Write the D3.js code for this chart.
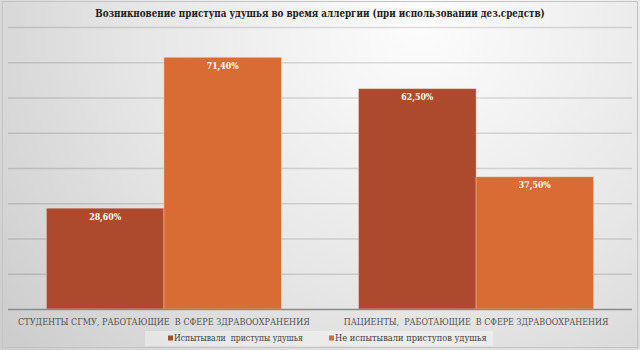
<!DOCTYPE html>
<html>
<head>
<meta charset="utf-8">
<script src="https://cdn.jsdelivr.net/npm/d3@7/dist/d3.min.js"></script>
<style>
  html, body { margin: 0; padding: 0; background: #fff; }
  svg { display: block; }
  svg text { font-family: "DejaVu Serif", serif; white-space: pre; }
</style>
</head>
<body>
<svg id="chart" width="640" height="350"></svg>
<script>
// Chart data
const title = "Возникновение приступа удушья во время аллергии (при использовании дез.средств)";
const categories = [
  "СТУДЕНТЫ СГМУ, РАБОТАЮЩИЕ  В СФЕРЕ ЗДРАВООХРАНЕНИЯ",
  "ПАЦИЕНТЫ,  РАБОТАЮЩИЕ  В СФЕРЕ ЗДРАВООХРАНЕНИЯ"
];
const seriesNames = ["Испытывали  приступы удушья", "Не испытывали приступов удушья"];
const experienced = [28.6, 62.5];
const notExperienced = [71.4, 37.5];
const yTicks = [0, 10, 20, 30, 40, 50, 60, 70, 80];
const colors = ["#ad4a2d", "#d96c35"];

const W = 640, H = 350;
const margin = { left: 8, right: 8, top: 27, bottom: 41 };
const svg = d3.select("#chart");

// Condense a text element horizontally (about its anchor x) to a given width
function fitWidth(sel, w) {
  sel.each(function() {
    const t = d3.select(this);
    const natural = this.getComputedTextLength();
    const k = natural > 0 ? w / natural : 1;
    const ax = +t.attr("x") || 0;
    t.attr("transform", `translate(${ax},0) scale(${k},1) translate(${-ax},0)`);
  });
}

// Background with soft radial shading and a thin frame
const defs = svg.append("defs");
const rg = defs.append("radialGradient")
  .attr("id", "bg").attr("gradientUnits", "userSpaceOnUse")
  .attr("cx", 420).attr("cy", 20).attr("r", 520);
rg.append("stop").attr("offset", "0%").attr("stop-color", "#fdfdfd");
rg.append("stop").attr("offset", "55%").attr("stop-color", "#e6e6e6");
rg.append("stop").attr("offset", "100%").attr("stop-color", "#cdcdcd");
svg.append("rect").attr("width", W).attr("height", H).attr("fill", "url(#bg)");
svg.append("rect").attr("x", 2.5).attr("y", 1.5).attr("width", W - 5).attr("height", H - 4)
  .attr("fill", "none").attr("stroke", "#c4c4c4").attr("stroke-width", 1);

const x0 = d3.scaleBand().domain(categories)
  .range([margin.left, W - margin.right]).paddingInner(0.247).paddingOuter(0.123);
const x1 = d3.scaleBand().domain([0, 1]).range([0, x0.bandwidth()]);
const y = d3.scaleLinear().domain([0, 80]).range([H - margin.bottom, margin.top]);

// Horizontal gridlines
const grid = svg.append("g")
  .attr("transform", `translate(${margin.left},0)`)
  .call(d3.axisLeft(y).tickValues(yTicks.slice(1)).tickSize(-(W - margin.left - margin.right)).tickFormat(""));
grid.select(".domain").remove();
grid.selectAll("line").attr("stroke", "rgba(0,0,0,0.13)").attr("stroke-width", 1.3);

// Grouped bars with value labels
const rows = categories.map((c, i) => ({ cat: c, vals: [experienced[i], notExperienced[i]] }));
const groups = svg.append("g").selectAll("g").data(rows).join("g")
  .attr("transform", d => `translate(${x0(d.cat)},0)`);
groups.selectAll("rect").data(d => d.vals.map((v, k) => ({ v, k }))).join("rect")
  .attr("x", d => x1(d.k))
  .attr("y", d => y(d.v))
  .attr("width", x1.bandwidth())
  .attr("height", d => y(0) - y(d.v))
  .attr("fill", d => colors[d.k])
  .attr("stroke", "rgba(255,225,210,0.45)")
  .attr("stroke-width", 0.8);
groups.selectAll("text").data(d => d.vals.map((v, k) => ({ v, k }))).join("text")
  .attr("x", d => x1(d.k) + x1.bandwidth() / 2)
  .attr("y", d => y(d.v) + 11.5)
  .attr("text-anchor", "middle")
  .attr("font-weight", "bold")
  .attr("font-size", 10)
  .attr("fill", "#ffffff")
  .text(d => d3.format(".2f")(d.v).replace(".", ",") + "%")
  .call(fitWidth, 32);

// Baseline and category labels
const xAxis = svg.append("g")
  .attr("transform", `translate(0,${y(0)})`)
  .call(d3.axisBottom(x0).tickSize(0).tickPadding(9));
xAxis.attr("font-family", null);
xAxis.select(".domain").attr("d", `M${margin.left},0.5H${W - margin.right}`)
  .attr("stroke", "#8a8a8a").attr("stroke-width", 1.4);
const catWidths = [292, 265];
xAxis.selectAll(".tick text")
  .attr("font-size", 9.5)
  .attr("fill", "#505050")
  .each(function(d, i) { d3.select(this).call(fitWidth, catWidths[i]); });

// Title
svg.append("text")
  .attr("x", W / 2).attr("y", 17.5)
  .attr("text-anchor", "middle")
  .attr("font-weight", "bold")
  .attr("font-size", 11.5)
  .attr("fill", "#222")
  .text(title)
  .call(fitWidth, 450);

// Legend
const legend = svg.append("g");
legend.append("rect").attr("x", 145).attr("y", 331).attr("width", 348).attr("height", 15)
  .attr("fill", "rgba(255,255,255,0.35)");
const legendX = [168, 329];
const legendW = [129, 152];
seriesNames.forEach((name, i) => {
  legend.append("rect").attr("x", legendX[i]).attr("y", 335.5).attr("width", 5).attr("height", 5)
    .attr("fill", colors[i]);
  legend.append("text").attr("x", legendX[i] + 6).attr("y", 341.5)
    .attr("font-size", 9)
    .attr("fill", "#404040")
    .text(name)
    .call(fitWidth, legendW[i]);
});
</script>
</body>
</html>
